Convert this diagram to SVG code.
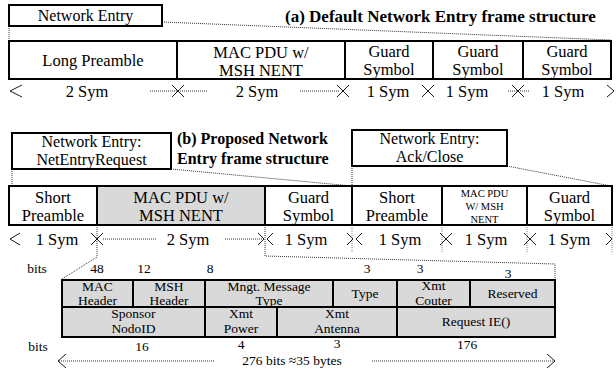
<svg xmlns="http://www.w3.org/2000/svg" width="616" height="371" viewBox="0 0 616 371">
<style>
text{font-family:"Liberation Serif","Times New Roman",serif;fill:#000;text-anchor:middle}
.f{font-size:16.5px}
.e{font-size:16px}
.y{font-size:16.5px}
.sm{font-size:10.5px}
.t{font-size:13.5px}
.b{font-weight:bold;text-anchor:start}
.box{fill:#fff;stroke:#000;stroke-width:2}
.gray{fill:#d9d9d9;stroke:#000;stroke-width:2}
.dot{fill:none;stroke:#000;stroke-width:0.8;stroke-dasharray:1 1}
.ah{fill:none;stroke:#000;stroke-width:0.9}
.tick{fill:none;stroke:#555;stroke-width:0.7;stroke-dasharray:1 1}
</style>
<rect width="616" height="371" fill="#fff"/>

<!-- (a) -->
<g id="a-entry"><rect class="box" x="9" y="5" width="153" height="21"/><text class="e" x="85.5" y="21">Network Entry</text></g>
<text class="b" x="285" y="22" style="font-size:17px">(a) Default Network Entry frame structure</text>
<g id="a-long"><rect class="box" x="9" y="41" width="168" height="38"/><text class="f" x="93" y="66">Long Preamble</text></g>
<g id="a-mac"><rect class="box" x="177" y="41" width="168" height="38"/><text class="f" x="261" y="58">MAC PDU w/</text><text class="f" x="261" y="76">MSH NENT</text></g>
<g id="a-guard1"><rect class="box" x="345" y="41" width="88" height="38"/><text class="f" x="389" y="57">Guard</text><text class="f" x="389" y="75">Symbol</text></g>
<g id="a-guard2"><rect class="box" x="433" y="41" width="90" height="38"/><text class="f" x="478" y="57">Guard</text><text class="f" x="478" y="75">Symbol</text></g>
<g id="a-guard3"><rect class="box" x="523" y="41" width="88" height="38"/><text class="f" x="567" y="57">Guard</text><text class="f" x="567" y="75">Symbol</text></g>

<!-- (b) -->
<g id="b-req"><rect class="box" x="12" y="133" width="159" height="36"/><text class="e" x="91.5" y="147">Network Entry:</text><text class="e" x="91.5" y="165">NetEntryRequest</text></g>
<text class="b" x="177" y="144" style="font-size:16px">(b) Proposed Network</text>
<text class="b" x="177" y="164" style="font-size:16px">Entry frame structure</text>
<g id="b-ack"><rect class="box" x="352" y="130" width="155" height="36"/><text class="e" x="429.5" y="144">Network Entry:</text><text class="e" x="429.5" y="162">Ack/Close</text></g>

<g id="b-short1"><rect class="box" x="9" y="186" width="88" height="39"/><text class="f" x="53" y="203">Short</text><text class="f" x="53" y="221">Preamble</text></g>
<g id="b-mac"><rect class="gray" x="97" y="186" width="168" height="39"/><text class="f" x="181" y="203">MAC PDU w/</text><text class="f" x="181" y="221">MSH NENT</text></g>
<g id="b-guard1"><rect class="box" x="265" y="186" width="87" height="39"/><text class="f" x="308.5" y="203">Guard</text><text class="f" x="308.5" y="221">Symbol</text></g>
<g id="b-short2"><rect class="box" x="352" y="186" width="90" height="39"/><text class="f" x="397" y="203">Short</text><text class="f" x="397" y="221">Preamble</text></g>
<g id="b-mac2"><rect class="box" x="442" y="186" width="85" height="39"/><text class="sm" x="484.5" y="197">MAC PDU</text><text class="sm" x="484.5" y="210">W/ MSH</text><text class="sm" x="484.5" y="223">NENT</text></g>
<g id="b-guard2"><rect class="box" x="527" y="186" width="85" height="39"/><text class="f" x="569.5" y="203">Guard</text><text class="f" x="569.5" y="221">Symbol</text></g>

<!-- table -->
<g id="t-macheader"><rect class="gray" x="62" y="280" width="71" height="27"/><text class="t" x="97.5" y="291">MAC</text><text class="t" x="97.5" y="305">Header</text></g>
<g id="t-mshheader"><rect class="gray" x="133" y="280" width="72" height="27"/><text class="t" x="169" y="291">MSH</text><text class="t" x="169" y="305">Header</text></g>
<g id="t-mngt"><rect class="gray" x="205" y="280" width="128" height="27"/><text class="t" x="269" y="291">Mngt. Message</text><text class="t" x="269" y="305">Type</text></g>
<g id="t-type"><rect class="gray" x="333" y="280" width="64" height="27"/><text class="t" x="365" y="298">Type</text></g>
<g id="t-xmtcouter"><rect class="gray" x="397" y="280" width="73" height="27"/><text class="t" x="433.5" y="290">Xmt</text><text class="t" x="433.5" y="305">Couter</text></g>
<g id="t-reserved"><rect class="gray" x="470" y="280" width="85" height="27"/><text class="t" x="512.5" y="298">Reserved</text></g>
<g id="t-sponsor"><rect class="gray" x="62" y="307" width="143" height="30"/><text class="t" x="133.5" y="318">Sponsor</text><text class="t" x="133.5" y="333">NodoID</text></g>
<g id="t-power"><rect class="gray" x="205" y="307" width="72" height="30"/><text class="t" x="241" y="318">Xmt</text><text class="t" x="241" y="333">Power</text></g>
<g id="t-antenna"><rect class="gray" x="277" y="307" width="120" height="30"/><text class="t" x="337" y="318">Xmt</text><text class="t" x="337" y="333">Antenna</text></g>
<g id="t-request"><rect class="gray" x="397" y="307" width="158" height="30"/><text class="t" x="476" y="326">Request IE()</text></g>

<g id="labels">
<text class="t" x="37" y="273">bits</text>
<text class="t" x="97" y="273">48</text>
<text class="t" x="144" y="273">12</text>
<text class="t" x="210" y="273">8</text>
<text class="t" x="367" y="273">3</text>
<text class="t" x="420" y="273">3</text>
<text class="t" x="508" y="278">3</text>
<text class="t" x="38" y="351">bits</text>
<text class="t" x="142" y="351">16</text>
<text class="t" x="241" y="349">4</text>
<text class="t" x="337" y="348">3</text>
<text class="t" x="467" y="349">176</text>
<text class="t" x="292" y="365">276 bits ≈35 bytes</text>
<text class="y" x="87" y="97">2 Sym</text>
<text class="y" x="257" y="97">2 Sym</text>
<text class="y" x="388" y="97">1 Sym</text>
<text class="y" x="467" y="97">1 Sym</text>
<text class="y" x="563" y="97">1 Sym</text>
<text class="f" x="57" y="245">1 Sym</text>
<text class="f" x="188" y="245">2 Sym</text>
<text class="f" x="306" y="245">1 Sym</text>
<text class="f" x="400" y="245">1 Sym</text>
<text class="f" x="486" y="245">1 Sym</text>
<text class="f" x="569" y="245">1 Sym</text>
</g>

<g id="connectors">
<path class="dot" d="M9,26 V41 M162,22 L611,40"/>
<path class="ah" d="M22,85 L10,91 L22,97 M172,85 L184,97 M172,97 L184,85 M337,85 L349,97 M337,97 L349,85 M422,85 L434,97 M422,97 L434,85 M512,85 L524,97 M512,97 L524,85 M607,85 L614,91 L607,97"/>
<path class="dot" d="M150,91 H207 M300,91 H340 M508,91 H530"/>
<path class="dot" d="M12,169 V186 M171,169 L352,186 M352,166 V186 M507,166 L611,186"/>
<path class="ah" d="M20,233 L10,239 L20,245 M91,233 L103,245 M91,245 L103,233 M258,233 L264,239 L258,245 M273,233 L267,239 L273,245 M347,233 L353,239 L347,245 M362,233 L356,239 L362,245 M440,233 L452,245 M440,245 L452,233 M524,233 L536,245 M524,245 L536,233 M606,233 L612,239 L606,245"/>
<path class="dot" d="M103,239 H157 M225,239 H263"/>
<path class="tick" d="M352,225 V252 M442,225 V252 M527,225 V252 M612,225 V252"/>
<path class="dot" d="M97,225 V257 L62,279 M265,225 V256 L555,264 V279"/>
<path class="ah" d="M66,354 L58,361 L66,368 M547,354 L555,361 L547,368"/>
<path class="dot" d="M59,361 H215 M372,361 H555"/>
</g>
</svg>
